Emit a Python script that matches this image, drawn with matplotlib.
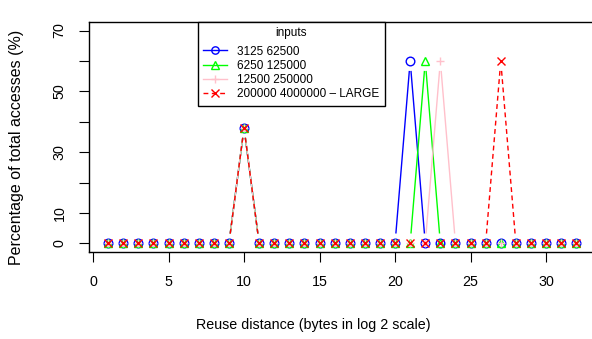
import numpy as np
import matplotlib
matplotlib.use("Agg")
import matplotlib.pyplot as plt

plt.rcParams['font.family'] = ['Liberation Sans', 'DejaVu Sans']

# datos
distancia = list(range(1, 33))
nombres = ["3125 62500", "6250 125000", "12500 250000", "200000 4000000 \u2013 LARGE"]
pico_10 = 38
pico_pos = [21, 22, 23, 27]
pico_val = 60

serie_azul = [0] * 32
serie_verde = [0] * 32
serie_rosa = [0] * 32
serie_roja = [0] * 32
for s, p in zip([serie_azul, serie_verde, serie_rosa, serie_roja], pico_pos):
    s[10 - 1] = pico_10
    s[p - 1] = pico_val

series = [serie_azul, serie_verde, serie_rosa, serie_roja]
colores = ["#0000FF", "#00FF00", "#FFC0CB", "#FF0000"]
marcadores = ["o", "^", "+", "x"]
estilos = ["-", "-", "-", (0, (3.5, 2.5))]

W, H = 592, 339
fig = plt.figure(figsize=(W / 100, H / 100), dpi=100)
# caja del grafico en pixeles: izq 89, der 595, arriba 22, abajo 252
ax = fig.add_axes([89.4 / W, (H - 252) / H, (595 - 89.4) / W, 230 / H])
ax.set_xlim(-0.24, 33.24)
ax.set_ylim(-2.8, 72.8)

GAP = 10  # hueco en pixeles alrededor de cada punto (tipo "b" de R)
for ys, col, mk, ls in zip(series, colores, marcadores, estilos):
    pts = ax.transData.transform(np.column_stack([distancia, ys]))
    inv = ax.transData.inverted()
    for p0, p1 in zip(pts[:-1], pts[1:]):
        d = p1 - p0
        L = np.hypot(*d)
        if L <= 2 * GAP:
            continue
        u = d / L
        a = inv.transform(p0 + u * GAP)
        b = inv.transform(p1 - u * GAP)
        ax.plot([a[0], b[0]], [a[1], b[1]], color=col, lw=1.0, linestyle=ls,
                solid_capstyle="butt", dash_capstyle="butt")
    ax.plot(distancia, ys, linestyle="none", marker=mk, color=col,
            markerfacecolor="none", markersize=6.2, markeredgewidth=1.0)

# leyenda
handles = [plt.Line2D([], [], color=c, marker=m, linestyle=s, lw=1.0,
                      markerfacecolor="none", markersize=5.3, markeredgewidth=1.0)
           for c, m, s in zip(colores, marcadores, estilos)]
leg = ax.legend(handles, nombres, title="inputs", loc="upper left",
                bbox_to_anchor=(198 / W, 1 - 22 / H), bbox_transform=fig.transFigure,
                fontsize=8.5, title_fontsize=8.5, frameon=True, fancybox=False,
                edgecolor="black", framealpha=1, borderpad=0.45, labelspacing=0.19,
                handlelength=2.0, handletextpad=0.85, borderaxespad=0)
leg.get_frame().set_linewidth(1.0)
leg._legend_box.sep = 4.5  # mas espacio entre el titulo y las entradas

ax.spines["right"].set_visible(False)
for s in ["left", "bottom", "top"]:
    ax.spines[s].set_linewidth(1.0)

ax.set_xticks([0, 5, 10, 15, 20, 25, 30])
ax.set_yticks([0, 10, 20, 30, 40, 50, 60, 70])
ax.set_yticklabels(["0", "10", "", "30", "", "50", "", "70"], rotation=90, va="center")
ax.tick_params(direction="out", length=7.5, width=0.8, labelsize=10.3)
ax.tick_params(axis="x", pad=9)
ax.tick_params(axis="y", pad=9)

fig.text(313 / W, 1 - 325 / H, "Reuse distance (bytes in log 2 scale)",
         ha="center", va="center", fontsize=10.3)
fig.text(17 / W, 1 - 147 / H, "Percentage of total accesses (%)",
         ha="center", va="center", rotation=90, fontsize=11.5)

fig.savefig("out.png", dpi=100)
